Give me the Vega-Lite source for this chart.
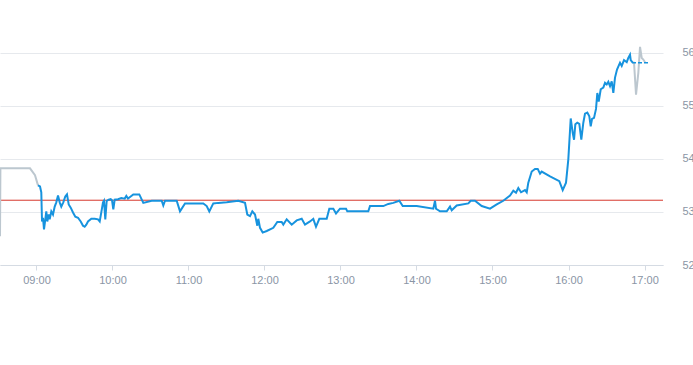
{
  "$schema": "https://vega.github.io/schema/vega-lite/v6.json",
  "width": 663,
  "height": 223,
  "autosize": {"type": "none"},
  "padding": {"left": 0, "top": 42, "right": 30, "bottom": 100},
  "background": "#ffffff",
  "config": {"view": {"stroke": null}},
  "datasets": {
    "pre": [
      {"t": "2024-01-02T08:31:12Z", "p": 52.54},
      {"t": "2024-01-02T08:31:31Z", "p": 53.82},
      {"t": "2024-01-02T08:54:53Z", "p": 53.82},
      {"t": "2024-01-02T08:58:50Z", "p": 53.69},
      {"t": "2024-01-02T09:01:12Z", "p": 53.50}
    ],
    "main": [
      {"t": "2024-01-02T09:01:12Z", "p": 53.50},
      {"t": "2024-01-02T09:02:47Z", "p": 53.48},
      {"t": "2024-01-02T09:03:48Z", "p": 53.37},
      {"t": "2024-01-02T09:04:22Z", "p": 52.82},
      {"t": "2024-01-02T09:05:09Z", "p": 52.89},
      {"t": "2024-01-02T09:05:56Z", "p": 52.67},
      {"t": "2024-01-02T09:06:58Z", "p": 52.86},
      {"t": "2024-01-02T09:07:45Z", "p": 53.01},
      {"t": "2024-01-02T09:08:32Z", "p": 52.82},
      {"t": "2024-01-02T09:09:39Z", "p": 52.95},
      {"t": "2024-01-02T09:10:26Z", "p": 52.86},
      {"t": "2024-01-02T09:11:42Z", "p": 53.01},
      {"t": "2024-01-02T09:13:02Z", "p": 52.95},
      {"t": "2024-01-02T09:14:23Z", "p": 53.10},
      {"t": "2024-01-02T09:15:39Z", "p": 53.18},
      {"t": "2024-01-02T09:17:00Z", "p": 53.31},
      {"t": "2024-01-02T09:18:20Z", "p": 53.18},
      {"t": "2024-01-02T09:19:35Z", "p": 53.10},
      {"t": "2024-01-02T09:21:10Z", "p": 53.18},
      {"t": "2024-01-02T09:22:45Z", "p": 53.29},
      {"t": "2024-01-02T09:24:05Z", "p": 53.33},
      {"t": "2024-01-02T09:25:26Z", "p": 53.14},
      {"t": "2024-01-02T09:27:01Z", "p": 53.08},
      {"t": "2024-01-02T09:28:50Z", "p": 52.99},
      {"t": "2024-01-02T09:30:39Z", "p": 52.91},
      {"t": "2024-01-02T09:32:47Z", "p": 52.89},
      {"t": "2024-01-02T09:34:55Z", "p": 52.82},
      {"t": "2024-01-02T09:36:44Z", "p": 52.74},
      {"t": "2024-01-02T09:38:04Z", "p": 52.72},
      {"t": "2024-01-02T09:39:20Z", "p": 52.76},
      {"t": "2024-01-02T09:40:40Z", "p": 52.82},
      {"t": "2024-01-02T09:43:17Z", "p": 52.87},
      {"t": "2024-01-02T09:45:58Z", "p": 52.87},
      {"t": "2024-01-02T09:48:34Z", "p": 52.86},
      {"t": "2024-01-02T09:49:55Z", "p": 52.82},
      {"t": "2024-01-02T09:51:10Z", "p": 52.99},
      {"t": "2024-01-02T09:52:31Z", "p": 53.18},
      {"t": "2024-01-02T09:53:18Z", "p": 53.21},
      {"t": "2024-01-02T09:54:20Z", "p": 52.86},
      {"t": "2024-01-02T09:55:26Z", "p": 53.21},
      {"t": "2024-01-02T09:57:01Z", "p": 53.23},
      {"t": "2024-01-02T09:58:35Z", "p": 53.24},
      {"t": "2024-01-02T09:59:37Z", "p": 53.22},
      {"t": "2024-01-02T10:00:39Z", "p": 53.05},
      {"t": "2024-01-02T10:01:45Z", "p": 53.23},
      {"t": "2024-01-02T10:04:22Z", "p": 53.24},
      {"t": "2024-01-02T10:06:58Z", "p": 53.26},
      {"t": "2024-01-02T10:09:39Z", "p": 53.25},
      {"t": "2024-01-02T10:10:55Z", "p": 53.30},
      {"t": "2024-01-02T10:12:15Z", "p": 53.25},
      {"t": "2024-01-02T10:13:50Z", "p": 53.28},
      {"t": "2024-01-02T10:16:26Z", "p": 53.33},
      {"t": "2024-01-02T10:21:10Z", "p": 53.33},
      {"t": "2024-01-02T10:24:20Z", "p": 53.17},
      {"t": "2024-01-02T10:30:58Z", "p": 53.21},
      {"t": "2024-01-02T10:38:51Z", "p": 53.21},
      {"t": "2024-01-02T10:40:07Z", "p": 53.12},
      {"t": "2024-01-02T10:41:28Z", "p": 53.21},
      {"t": "2024-01-02T10:50:42Z", "p": 53.21},
      {"t": "2024-01-02T10:53:18Z", "p": 53.01},
      {"t": "2024-01-02T10:57:15Z", "p": 53.16},
      {"t": "2024-01-02T11:11:42Z", "p": 53.16},
      {"t": "2024-01-02T11:14:23Z", "p": 53.11},
      {"t": "2024-01-02T11:16:26Z", "p": 53.01},
      {"t": "2024-01-02T11:19:35Z", "p": 53.16},
      {"t": "2024-01-02T11:23:32Z", "p": 53.17},
      {"t": "2024-01-02T11:30:10Z", "p": 53.18},
      {"t": "2024-01-02T11:39:20Z", "p": 53.21},
      {"t": "2024-01-02T11:44:37Z", "p": 53.17},
      {"t": "2024-01-02T11:46:26Z", "p": 52.95},
      {"t": "2024-01-02T11:48:34Z", "p": 52.92},
      {"t": "2024-01-02T11:50:23Z", "p": 53.01},
      {"t": "2024-01-02T11:52:31Z", "p": 52.95},
      {"t": "2024-01-02T11:54:20Z", "p": 52.74},
      {"t": "2024-01-02T11:55:07Z", "p": 52.87},
      {"t": "2024-01-02T11:56:28Z", "p": 52.70},
      {"t": "2024-01-02T11:58:35Z", "p": 52.61},
      {"t": "2024-01-02T12:01:45Z", "p": 52.64},
      {"t": "2024-01-02T12:06:58Z", "p": 52.70},
      {"t": "2024-01-02T12:10:07Z", "p": 52.81},
      {"t": "2024-01-02T12:13:35Z", "p": 52.81},
      {"t": "2024-01-02T12:14:52Z", "p": 52.76},
      {"t": "2024-01-02T12:17:32Z", "p": 52.86},
      {"t": "2024-01-02T12:21:29Z", "p": 52.76},
      {"t": "2024-01-02T12:25:26Z", "p": 52.84},
      {"t": "2024-01-02T12:29:23Z", "p": 52.87},
      {"t": "2024-01-02T12:31:59Z", "p": 52.76},
      {"t": "2024-01-02T12:35:56Z", "p": 52.82},
      {"t": "2024-01-02T12:38:32Z", "p": 52.87},
      {"t": "2024-01-02T12:40:40Z", "p": 52.72},
      {"t": "2024-01-02T12:43:17Z", "p": 52.87},
      {"t": "2024-01-02T12:49:07Z", "p": 52.87},
      {"t": "2024-01-02T12:51:10Z", "p": 53.06},
      {"t": "2024-01-02T12:54:20Z", "p": 53.06},
      {"t": "2024-01-02T12:56:28Z", "p": 52.97},
      {"t": "2024-01-02T12:59:37Z", "p": 53.06},
      {"t": "2024-01-02T13:04:22Z", "p": 53.06},
      {"t": "2024-01-02T13:05:23Z", "p": 53.01},
      {"t": "2024-01-02T13:21:58Z", "p": 53.01},
      {"t": "2024-01-02T13:23:18Z", "p": 53.11},
      {"t": "2024-01-02T13:33:48Z", "p": 53.11},
      {"t": "2024-01-02T13:37:45Z", "p": 53.15},
      {"t": "2024-01-02T13:41:41Z", "p": 53.17},
      {"t": "2024-01-02T13:46:26Z", "p": 53.21},
      {"t": "2024-01-02T13:49:07Z", "p": 53.11},
      {"t": "2024-01-02T14:00:10Z", "p": 53.11},
      {"t": "2024-01-02T14:13:16Z", "p": 53.06},
      {"t": "2024-01-02T14:14:37Z", "p": 53.21},
      {"t": "2024-01-02T14:15:25Z", "p": 53.06},
      {"t": "2024-01-02T14:18:34Z", "p": 53.01},
      {"t": "2024-01-02T14:23:52Z", "p": 53.01},
      {"t": "2024-01-02T14:26:28Z", "p": 53.10},
      {"t": "2024-01-02T14:27:48Z", "p": 53.03},
      {"t": "2024-01-02T14:31:45Z", "p": 53.12},
      {"t": "2024-01-02T14:40:55Z", "p": 53.16},
      {"t": "2024-01-02T14:42:48Z", "p": 53.21},
      {"t": "2024-01-02T14:46:12Z", "p": 53.21},
      {"t": "2024-01-02T14:51:29Z", "p": 53.11},
      {"t": "2024-01-02T14:58:02Z", "p": 53.06},
      {"t": "2024-01-02T15:03:20Z", "p": 53.14},
      {"t": "2024-01-02T15:08:32Z", "p": 53.21},
      {"t": "2024-01-02T15:13:50Z", "p": 53.31},
      {"t": "2024-01-02T15:16:26Z", "p": 53.40},
      {"t": "2024-01-02T15:18:34Z", "p": 53.36},
      {"t": "2024-01-02T15:20:23Z", "p": 53.45},
      {"t": "2024-01-02T15:22:31Z", "p": 53.37},
      {"t": "2024-01-02T15:25:40Z", "p": 53.41},
      {"t": "2024-01-02T15:27:01Z", "p": 53.37},
      {"t": "2024-01-02T15:28:16Z", "p": 53.55},
      {"t": "2024-01-02T15:30:58Z", "p": 53.76},
      {"t": "2024-01-02T15:33:34Z", "p": 53.81},
      {"t": "2024-01-02T15:35:41Z", "p": 53.81},
      {"t": "2024-01-02T15:37:31Z", "p": 53.72},
      {"t": "2024-01-02T15:38:51Z", "p": 53.76},
      {"t": "2024-01-02T15:45:25Z", "p": 53.67},
      {"t": "2024-01-02T15:52:45Z", "p": 53.58},
      {"t": "2024-01-02T15:55:26Z", "p": 53.41},
      {"t": "2024-01-02T15:58:02Z", "p": 53.55},
      {"t": "2024-01-02T15:59:51Z", "p": 53.99},
      {"t": "2024-01-02T16:01:45Z", "p": 54.76},
      {"t": "2024-01-02T16:03:20Z", "p": 54.49},
      {"t": "2024-01-02T16:04:22Z", "p": 54.36},
      {"t": "2024-01-02T16:05:23Z", "p": 54.65},
      {"t": "2024-01-02T16:06:58Z", "p": 54.68},
      {"t": "2024-01-02T16:08:32Z", "p": 54.66},
      {"t": "2024-01-02T16:10:07Z", "p": 54.36},
      {"t": "2024-01-02T16:11:42Z", "p": 54.68},
      {"t": "2024-01-02T16:13:02Z", "p": 54.85},
      {"t": "2024-01-02T16:14:51Z", "p": 54.87},
      {"t": "2024-01-02T16:16:26Z", "p": 54.80},
      {"t": "2024-01-02T16:17:32Z", "p": 54.61},
      {"t": "2024-01-02T16:18:34Z", "p": 54.75},
      {"t": "2024-01-02T16:20:09Z", "p": 54.77},
      {"t": "2024-01-02T16:21:43Z", "p": 54.94},
      {"t": "2024-01-02T16:22:45Z", "p": 55.24},
      {"t": "2024-01-02T16:23:52Z", "p": 55.08},
      {"t": "2024-01-02T16:25:26Z", "p": 55.31},
      {"t": "2024-01-02T16:27:29Z", "p": 55.34},
      {"t": "2024-01-02T16:28:50Z", "p": 55.43},
      {"t": "2024-01-02T16:30:10Z", "p": 55.40},
      {"t": "2024-01-02T16:31:26Z", "p": 55.45},
      {"t": "2024-01-02T16:32:47Z", "p": 55.37},
      {"t": "2024-01-02T16:34:07Z", "p": 55.46},
      {"t": "2024-01-02T16:35:23Z", "p": 55.24},
      {"t": "2024-01-02T16:36:43Z", "p": 55.53},
      {"t": "2024-01-02T16:38:18Z", "p": 55.68},
      {"t": "2024-01-02T16:40:40Z", "p": 55.81},
      {"t": "2024-01-02T16:42:01Z", "p": 55.75},
      {"t": "2024-01-02T16:43:50Z", "p": 55.86},
      {"t": "2024-01-02T16:45:58Z", "p": 55.82},
      {"t": "2024-01-02T16:47:13Z", "p": 55.90},
      {"t": "2024-01-02T16:48:34Z", "p": 55.96},
      {"t": "2024-01-02T16:49:07Z", "p": 55.86},
      {"t": "2024-01-02T16:50:42Z", "p": 55.81}
    ],
    "post": [
      {"t": "2024-01-02T16:50:42Z", "p": 55.81},
      {"t": "2024-01-02T16:51:44Z", "p": 55.81},
      {"t": "2024-01-02T16:53:18Z", "p": 55.21},
      {"t": "2024-01-02T16:55:07Z", "p": 55.62},
      {"t": "2024-01-02T16:56:28Z", "p": 56.11},
      {"t": "2024-01-02T16:57:48Z", "p": 55.90},
      {"t": "2024-01-02T16:59:04Z", "p": 55.87},
      {"t": "2024-01-02T17:00:25Z", "p": 55.82}
    ],
    "last": [
      {"t": "2024-01-02T16:50:08Z", "p": 55.81},
      {"t": "2024-01-02T17:04:20Z", "p": 55.81}
    ],
    "ref": [
      {"p": 53.22}
    ]
  },
  "layer": [
    {
      "data": {"name": "ref"},
      "mark": {"type": "rule", "color": "#d6362c", "strokeWidth": 1},
      "encoding": {
        "y": {
          "field": "p",
          "type": "quantitative",
          "title": null,
          "scale": {"domain": [52, 56.2], "nice": false, "zero": false},
          "axis": {
            "orient": "right",
            "values": [52, 53, 54, 55, 56],
            "grid": true,
            "gridColor": "#e6e9ed",
            "domain": false,
            "ticks": false,
            "labelPadding": 19,
            "labelColor": "#8a95a5",
            "labelFontSize": 11,
            "labelFont": "Liberation Sans"
          }
        }
      }
    },
    {
      "data": {"name": "pre"},
      "mark": {"type": "line", "color": "#bcc7cf", "strokeWidth": 2},
      "encoding": {
        "x": {
          "field": "t",
          "type": "temporal",
          "title": null,
          "scale": {"type": "utc", "domain": [1704184272000, 1704215676000]},
          "axis": {
            "format": "%H:%M",
            "values": [1704186000000, 1704189600000, 1704193200000, 1704196800000, 1704200400000, 1704204000000, 1704207600000, 1704211200000, 1704214800000],
            "grid": false,
            "domainColor": "#d5dbe3",
            "tickColor": "#d5dbe3",
            "tickSize": 5,
            "labelPadding": 4,
            "labelColor": "#8a95a5",
            "labelFontSize": 11,
            "labelFont": "Liberation Sans"
          }
        },
        "y": {"field": "p", "type": "quantitative"}
      }
    },
    {
      "data": {"name": "post"},
      "mark": {"type": "line", "color": "#bcc7cf", "strokeWidth": 2},
      "encoding": {
        "x": {"field": "t", "type": "temporal"},
        "y": {"field": "p", "type": "quantitative"}
      }
    },
    {
      "data": {"name": "main"},
      "mark": {"type": "line", "color": "#1793de", "strokeWidth": 2},
      "encoding": {
        "x": {"field": "t", "type": "temporal"},
        "y": {"field": "p", "type": "quantitative"}
      }
    },
    {
      "data": {"name": "last"},
      "mark": {"type": "line", "color": "#1793de", "strokeWidth": 1.5, "strokeDash": [4, 2]},
      "encoding": {
        "x": {"field": "t", "type": "temporal"},
        "y": {"field": "p", "type": "quantitative"}
      }
    }
  ]
}
